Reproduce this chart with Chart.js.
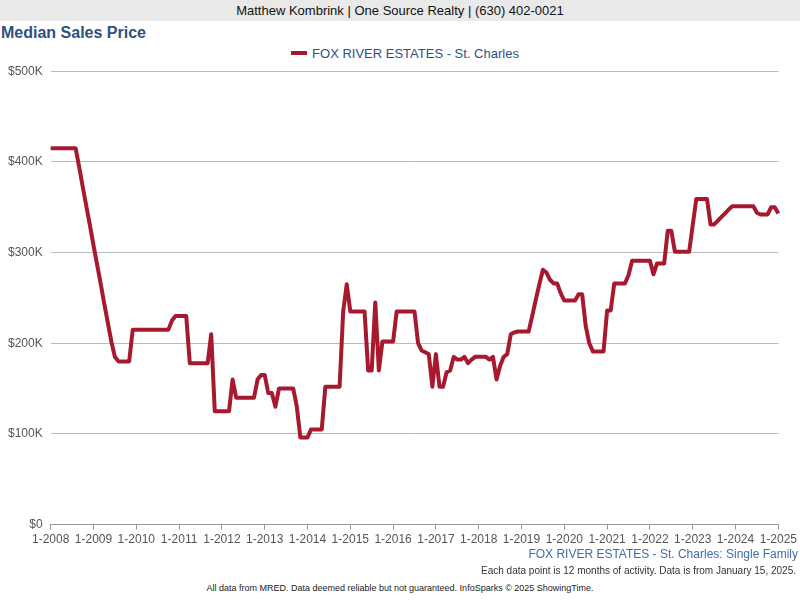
<!DOCTYPE html>
<html>
<head>
<meta charset="utf-8">
<script src="https://cdn.jsdelivr.net/npm/chart.js@4"></script>
<style>
  body { margin: 0; width: 800px; height: 600px; background: #fff; font-family: Arial, "Liberation Sans", sans-serif; position: relative; overflow: hidden; }
  .top { position: absolute; left: 0; top: 0; width: 800px; height: 21px; background: #e9e9e9; text-align: center; font-size: 13px; line-height: 22px; color: #111; }
  .title { position: absolute; left: 1px; top: 24px; font-size: 16px; font-weight: bold; color: #2d5182; }
  .legend { position: absolute; left: 0; top: 46px; width: 810px; text-align: center; font-size: 13px; color: #2d5182; }
  .legend span.sw { display: inline-block; width: 16px; height: 4px; background: #a6192e; vertical-align: middle; margin-right: 5px; margin-top: -3px; }
  .wrap { position: absolute; left: 0; top: 56px; width: 800px; height: 494px; }
  .f1 { position: absolute; right: 2px; top: 547px; font-size: 12px; color: #3f6fa6; }
  .f2 { position: absolute; right: 4px; top: 565px; font-size: 10px; color: #333; }
  .f3 { position: absolute; left: 0; width: 800px; top: 583px; text-align: center; font-size: 9px; color: #222; }
</style>
</head>
<body>
<div class="top">Matthew Kombrink | One Source Realty | (630) 402-0021</div>
<div class="title">Median Sales Price</div>
<div class="legend"><span class="sw"></span>FOX RIVER ESTATES - St. Charles</div>
<div class="wrap"><canvas id="c"></canvas></div>
<div class="f1">FOX RIVER ESTATES - St. Charles: Single Family</div>
<div class="f2">Each data point is 12 months of activity. Data is from January 15, 2025.</div>
<div class="f3">All data from MRED. Data deemed reliable but not guaranteed. InfoSparks © 2025 ShowingTime.</div>
<script>
// monthly median price in $K, Jan 2008 .. Dec 2024
const prices = [
  415, 415, 415, 415, 415, 415, 415, 415, 394, 372, 351, 330,
  308, 287, 266, 244, 223, 202, 185, 180, 180, 180, 180, 215,
  215, 215, 215, 215, 215, 215, 215, 215, 215, 215, 225, 230,
  230, 230, 230, 178, 178, 178, 178, 178, 178, 210, 125, 125,
  125, 125, 125, 160, 140, 140, 140, 140, 140, 140, 160, 165,
  165, 145, 145, 130, 150, 150, 150, 150, 150, 130, 96, 96,
  96, 105, 105, 105, 105, 152, 152, 152, 152, 152, 235, 265,
  235, 235, 235, 235, 235, 170, 170, 245, 170, 202, 202, 202,
  202, 235, 235, 235, 235, 235, 235, 200, 192, 190, 188, 152,
  188, 152, 152, 168, 170, 185, 182, 182, 185, 178, 182, 185,
  185, 185, 185, 182, 185, 160, 175, 185, 188, 210, 212, 213,
  213, 213, 213, 230, 248, 265, 281, 278, 270, 266, 266, 255,
  247, 247, 247, 247, 254, 254, 219, 200, 191, 191, 191, 191,
  236, 236, 266, 266, 266, 266, 275, 291, 291, 291, 291, 291,
  291, 276, 288, 288, 288, 324, 324, 301, 301, 301, 301, 301,
  330, 359, 359, 359, 359, 331, 331, 335, 339, 343, 347, 351,
  351, 351, 351, 351, 351, 351, 344, 342, 342, 342, 350, 350, 343
];
const startYear = 2008;
const months = prices.map((_, i) => `${(i % 12) + 1}-${startYear + Math.floor(i / 12)}`);
const yTicks = [0, 100000, 200000, 300000, 400000, 500000];

new Chart(document.getElementById('c'), {
  type: 'line',
  data: {
    labels: months,
    datasets: [{
      label: 'FOX RIVER ESTATES - St. Charles',
      data: prices.map(v => v * 1000),
      borderColor: '#a6192e',
      borderWidth: 4,
      pointRadius: 0,
      tension: 0,
      borderJoinStyle: 'round'
    }]
  },
  options: {
    responsive: true,
    maintainAspectRatio: false,
    animation: false,
    layout: { padding: { left: 0, right: 20, top: 5, bottom: 0 } },
    plugins: { legend: { display: false }, tooltip: { enabled: false } },
    scales: {
      x: {
        offset: false,
        grid: { drawOnChartArea: false, color: '#999', tickLength: 5 },
        border: { color: '#999' },
        ticks: {
          autoSkip: false, maxRotation: 0, color: '#555', font: { size: 12, family: 'Arial' },
          callback: (v, i) => months[i].startsWith('1-') ? months[i] : null
        }
      },
      y: {
        min: 0, max: 500000,
        afterBuildTicks: axis => { axis.ticks = yTicks.map(v => ({ value: v })); },
        grid: { color: '#bbb', drawTicks: false },
        border: { display: false },
        ticks: {
          padding: 8, color: '#555', font: { size: 12, family: 'Arial' },
          callback: v => v === 0 ? '$0' : '$' + (v / 1000) + 'K'
        }
      }
    }
  }
});
</script>
</body>
</html>
